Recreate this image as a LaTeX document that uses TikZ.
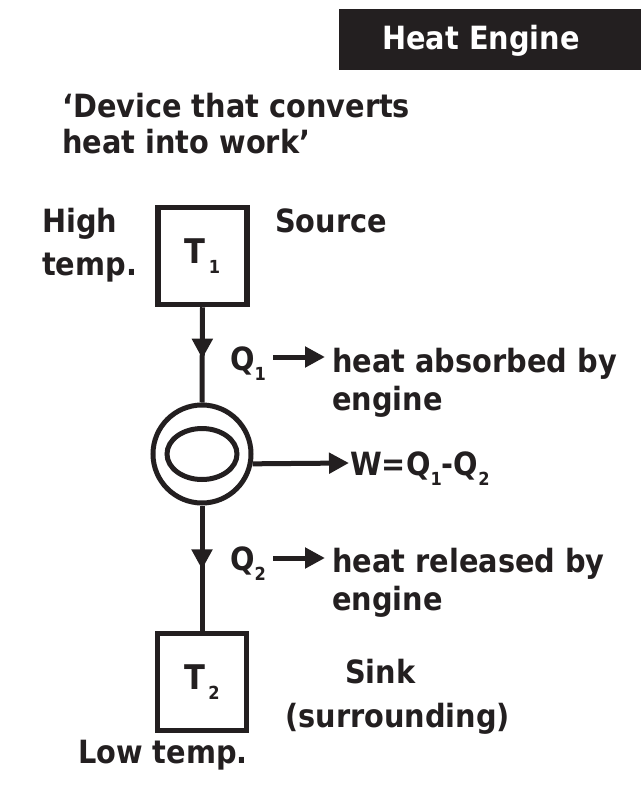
\documentclass[tikz,border=0pt]{standalone}
\usepackage{fontspec}
\newfontfamily\cfont[FakeStretch=0.9]{DejaVu Sans Bold}
\usetikzlibrary{arrows.meta,decorations.markings,shapes.geometric}
\definecolor{ink}{RGB}{35,31,32}
\newcommand\sbx[1]{\raisebox{-10pt}{\fontsize{18}{18}\selectfont #1}}
\tikzset{
  txt/.style={inner sep=0, anchor=base west, text=ink, font=\cfont\fontsize{32}{38}\selectfont},
  tbox/.style={draw=ink, line width=5.5pt, minimum width=89pt, minimum height=97pt, inner sep=0,
    text=ink, font=\cfont\fontsize{34}{40}\selectfont},
  vline/.style={draw=ink, line width=5pt, postaction={decorate}},
  harrow/.style={draw=ink, line width=5pt, -{Triangle[length=20pt,width=20pt]}},
}
\begin{document}
\begin{tikzpicture}[x=1pt,y=-1pt]
\useasboundingbox (0,0) rectangle (641,792);
% banner
\fill[ink] (339,9) rectangle (641,70);
\node[txt, text=white, font=\cfont\fontsize{32}{38}\selectfont] (title) at (382,49) {Heat Engine};
% definition
\node[txt] (def1) at (62,117) {‘Device that converts};
\node[txt] (def2) at (62,153) {heat into work’};
% source
\node[txt] (high) at (42,232) {High};
\node[txt] (temphi) at (42,275) {temp.};
\node[txt] (source) at (275,232) {Source};
\node[tbox] (T1) at (202.5,256) {T\kern3pt\sbx{1}};
% engine
\node[draw=ink, circle, line width=5pt, minimum size=98pt, inner sep=0] (engine) at (202,454) {};
\node[draw=ink, ellipse, line width=5pt, minimum width=70pt, minimum height=51pt, inner sep=0] (inner) at (engine.center) {};
% sink
\node[tbox] (T2) at (202,682) {T\kern3pt\sbx{2}};
\node[txt] (sink) at (345,683) {Sink};
\node[txt] (surr) at (285,727) {(surrounding)};
\node[txt] (low) at (78,763) {Low temp.};
% vertical connectors
\draw[vline, decoration={markings, mark=at position 0.54 with {\arrow{Triangle[length=20pt,width=20pt]}}}] (T1.south) -- (engine.north);
\draw[vline, decoration={markings, mark=at position 0.51 with {\arrow{Triangle[length=20pt,width=20pt]}}}] (engine.south) -- (T2.north);
% Q1
\node[txt] (q1) at (230,370) {Q\sbx{1}};
\node[txt] (habs) at (332,372) {heat absorbed by};
\node[txt] (eng1) at (332,410) {engine};
\coordinate (a1s) at (273,357);
\coordinate (a1e) at (325,357);
\draw[harrow] (a1s) -- (a1e);
% W
\node[txt] (w) at (350,475) {W=Q\sbx{1}-Q\sbx{2}};
\coordinate (awe) at (349,463);
\draw[harrow] (engine.-11) -- (awe);
% Q2
\node[txt] (q2) at (230,570) {Q\sbx{2}};
\node[txt] (hrel) at (332,572) {heat released by};
\node[txt] (eng2) at (332,610) {engine};
\coordinate (a2s) at (273,558);
\coordinate (a2e) at (325,558);
\draw[harrow] (a2s) -- (a2e);
\end{tikzpicture}
\end{document}
